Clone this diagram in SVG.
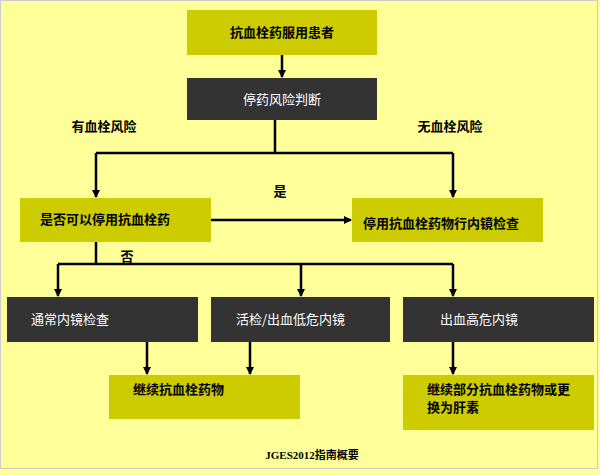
<svg xmlns="http://www.w3.org/2000/svg" width="600" height="475" viewBox="0 0 600 475">
<defs><marker id="ah" markerWidth="8" markerHeight="8" refX="7" refY="4" orient="auto" markerUnits="userSpaceOnUse"><path d="M0,0 L8,4 L0,8 z" fill="#000"/></marker></defs>
<style>
.y{fill:#CCCC00}.d{fill:#333333}
.bt{font-family:"Noto Sans CJK SC",sans-serif;font-size:13px;font-weight:bold;fill:#000}
.wt{font-family:"Noto Sans CJK SC",sans-serif;font-size:13px;fill:#fff}
.c line,.c path{stroke:#000;stroke-width:2.5;fill:none}
</style>
<rect x="0" y="0" width="600" height="475" fill="#FFFF99"/>
<rect x="0.5" y="0.5" width="597" height="468" fill="none" stroke="#ccc"/>
<g class="c">
<line x1="282" y1="55" x2="282" y2="77" marker-end="url(#ah)"/>
<path d="M275,120 V153 M96,153 H453"/>
<line x1="96" y1="153" x2="96" y2="197" marker-end="url(#ah)"/>
<line x1="453" y1="153" x2="453" y2="197" marker-end="url(#ah)"/>
<line x1="211" y1="220" x2="351" y2="220" marker-end="url(#ah)"/>
<path d="M96,242 V264 M58,264 H453"/>
<line x1="58" y1="264" x2="58" y2="296" marker-end="url(#ah)"/>
<line x1="301" y1="264" x2="301" y2="296" marker-end="url(#ah)"/>
<line x1="453" y1="264" x2="453" y2="296" marker-end="url(#ah)"/>
<line x1="147" y1="342" x2="147" y2="374" marker-end="url(#ah)"/>
<line x1="250" y1="342" x2="250" y2="374" marker-end="url(#ah)"/>
<line x1="453" y1="342" x2="453" y2="374" marker-end="url(#ah)"/>
</g>
<g id="n1"><rect class="y" x="187" y="10" width="190" height="45"/><text class="bt" x="282" y="37" text-anchor="middle">抗血栓药服用患者</text></g>
<g id="n2"><rect class="d" x="187" y="78" width="190" height="42"/><text class="wt" x="282" y="104" text-anchor="middle">停药风险判断</text></g>
<text class="bt" x="104" y="131" text-anchor="middle">有血栓风险</text>
<text class="bt" x="450" y="131" text-anchor="middle">无血栓风险</text>
<g id="n3"><rect class="y" x="20" y="198" width="191" height="44"/><text class="bt" x="40" y="224">是否可以停用抗血栓药</text></g>
<text class="bt" x="280" y="196" text-anchor="middle">是</text>
<g id="n4"><rect class="y" x="352" y="198" width="191" height="44"/><text class="bt" x="363" y="228">停用抗血栓药物行内镜检查</text></g>
<text class="bt" x="127" y="261" text-anchor="middle">否</text>
<g id="n5"><rect class="d" x="7" y="297" width="191" height="45"/><text class="wt" x="31" y="324">通常内镜检查</text></g>
<g id="n6"><rect class="d" x="211" y="297" width="179" height="45"/><text class="wt" x="236" y="324">活检/出血低危内镜</text></g>
<g id="n7"><rect class="d" x="403" y="297" width="191" height="45"/><text class="wt" x="440" y="324">出血高危内镜</text></g>
<g id="n8"><rect class="y" x="109" y="375" width="191" height="44"/><text class="bt" x="133" y="394">继续抗血栓药物</text></g>
<g id="n9"><rect class="y" x="403" y="375" width="191" height="55"/><text class="bt" x="427" y="394">继续部分抗血栓药物或更</text><text class="bt" x="427" y="412">换为肝素</text></g>
<text x="312" y="459" text-anchor="middle" font-family="'Liberation Serif','Noto Sans CJK SC',serif" font-size="11" font-weight="bold">JGES2012指南概要</text>
</svg>
